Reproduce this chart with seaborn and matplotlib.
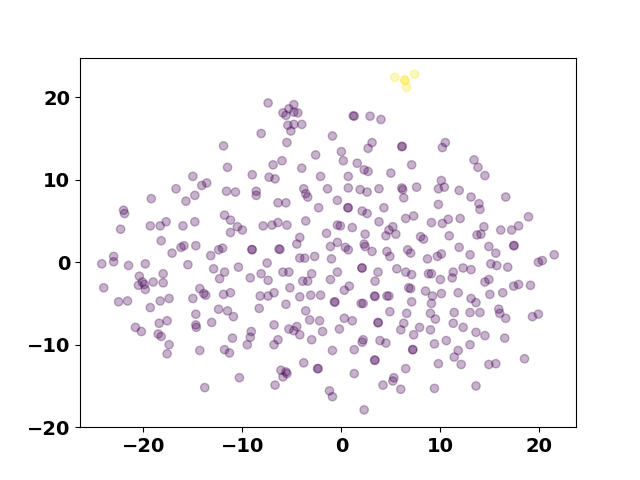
import seaborn as sns
import pandas as pd
import matplotlib
matplotlib.use("Agg")
import matplotlib.pyplot as plt

plt.rcParams['font.family'] = ['DejaVu Sans']
plt.rcParams['font.weight'] = 'bold'

# embedding coordinates, main group (label 0)
purple_x = [-15.0, -13.6, -14.1,
            -7.4, -4.8, -5.3, -5.9, -5.6, -4.8, -4.4, -5.4, -4.8, -4.0, -5.1, -8.1, -5.5, -0.9, -11.9, -2.6, -6.0, -6.9, -11.5, -4.0, -9.0, -7.3, -6.7, -2.1,
            1.2, 1.3, 2.9, 4.0, 3.1, 2.7, 6.1, 6.15, 10.5, 10.2, 0.0, 0.2, 1.6, 2.3, 2.7, 7.1, 5.0, 0.7, 10.1,
            13.4, 13.8, 14.5,
            -16.7, -19.2, -14.8, -15.7, -22.0, -21.9, -22.3, -19.3, -18.3, -17.7, -16.0, -14.8, -18.2, -16.2, -15.9, -14.7, -17.1, -13.2, -24.2, -23.0, -23.0, -21.5, -19.8, -15.5, -12.9, -18.0, -20.4, -20.5, -20.1, -19.9, -19.8, -19.0, -18.0, -24.0, -22.5, -21.6, -18.3, -17.4, -19.3, -15.0, -14.3, -13.9, -13.7,
            -11.6, -10.7, -8.6, -8.6, -3.8, -3.6, -3.4, -1.4, -6.4, -5.6, -2.3, -11.8, -11.2, -10.5, -10.0, -11.2, -7.9, -7.0, -6.4, -5.5, -3.6, -1.5, -4.2, -4.5, -1.1, -12.4, -12.0, -9.0, -9.05, -6.3, -6.2, -4.2, -3.7, -2.7, -1.0, -7.5, -10.4, -11.8, -12.3, -9.2, -8.1, -7.4, -5.9, -5.3, -3.0, -3.9, -3.4, -1.1, -5.2, -11.9, -11.2, -8.2, -7.4, -6.8, -4.2, -3.1, -2.1, -5.6, -0.7, -0.65,
            0.7, 1.9, 2.6, 3.8, 6.1, 6.2, 6.3, 7.6, 9.8, 10.4, -0.4, 0.65, 0.7, 2.1, 2.6, 4.3, 6.5, 7.3, 9.8, 9.1, 10.2, 10.8, -0.4, -0.1, 1.1, 3.8, 5.2, 4.8, 4.5, 5.5, 2.4, 8.0, 8.3, 10.9, -0.4, 0.4, 0.7, 2.3, 2.4, 3.1, 4.6, 4.9, 6.7, 7.0, 8.7, 9.7, 10.1, 2.07, 2.1, -0.4, 3.7, 3.4, 5.6, 6.5, 7.1, 8.8, 9.1, 10.0, 0.8, 0.3, 3.35, 3.4, 4.6, 4.8, 6.8, 7.0, 8.5, 9.2, 10.1, 7.1, 2.0, 2.2, 9.1,
            11.9, 13.1, 16.6, 13.9, 14.0, 12.0, 18.9, 14.4, 13.7, 14.1, 16.1, 17.2, 17.9, 17.4, 17.45, 11.9, 14.9, 15.6, 13.0, 21.5, 19.9, 20.3, 15.1, 15.7, 16.8, 12.3, 13.1, 11.3, 11.2, 14.5, 14.9, 17.4, 17.9, 19.1, 11.8, 15.0, 16.3, 13.1, 13.6,
            -14.7, -13.1, -17.6, -18.4, -20.8, -20.2, -14.7, -14.65, -18.5, -18.2, -17.4, -17.6, -14.3, -13.8,
            -12.4, -11.5, -10.9, -8.3, -3.6, -3.2, -2.2, -6.8, -5.3, -4.8, -4.5, -4.2, -1.9, -3.0, -9.1, -9.2, -9.5, -11.0, -6.4, -6.8, -11.8, -11.3, -0.9, -3.8, -2.4, -2.35, -6.1, -5.6, -5.5, -5.9, -6.7, -10.3, -1.2, -0.9,
            4.9, 6.6, 9.0, 9.5, 11.4, 11.3, 0.3, 1.1, -0.2, 3.7, 3.72, 6.3, 6.0, 7.9, 7.3, 9.0, 2.2, 2.1, 3.9, 4.5, 1.3, 7.2, 7.22, 9.4, 10.6, 3.35, 3.4, 6.5, 9.8, 1.3, 5.3, 5.2, 4.2, 6.0, 9.4, 2.3,
            13.0, 14.0, 15.9, 16.0, 16.6, 19.3, 19.9, 12.3, 13.6, 14.5, 16.5, 13.0, 11.8, 11.4, 12.1, 14.9, 15.6, 18.5, 13.6]
purple_y = [10.4, 9.6, 9.3,
            19.3, 19.1, 18.6, 18.1, 17.8, 18.2, 18.1, 16.6, 16.7, 16.7, 15.9, 15.6, 14.5, 15.3, 14.1, 13.0, 12.3, 11.8, 11.5, 11.4, 10.6, 10.3, 10.1, 10.4,
            17.75, 17.7, 17.7, 17.3, 14.5, 13.8, 14.0, 14.05, 14.5, 13.9, 13.4, 12.3, 12.0, 11.2, 11.0, 11.8, 10.8, 10.4, 9.9,
            12.4, 11.5, 10.5,
            8.9, 7.7, 8.1, 7.4, 6.3, 5.9, 4.0, 4.4, 4.4, 4.9, 4.4, 4.9, 2.6, 1.8, 2.0, 2.0, 1.1, 0.8, -0.2, 0.7, 0.05, -0.4, -0.2, -0.3, -0.8, -1.4, -1.7, -2.8, -2.4, -2.7, -3.3, -2.4, -2.5, -3.1, -4.8, -4.7, -4.7, -4.4, -5.5, -4.4, -3.2, -3.8, -4.0,
            8.6, 8.5, 8.6, 8.1, 8.9, 8.3, 7.9, 8.9, 7.2, 7.2, 6.6, 5.7, 5.1, 4.3, 3.9, 3.6, 4.4, 4.5, 4.8, 4.5, 5.0, 3.5, 3.0, 2.2, 1.9, 1.5, 1.7, 1.5, 1.55, 1.6, 1.55, 0.5, 0.5, 0.7, 0.4, -0.1, -0.6, -1.2, -2.0, -1.9, -1.4, -2.2, -1.2, -1.2, -1.4, -2.3, -2.3, -2.1, -3.1, -3.9, -3.7, -4.1, -4.1, -3.7, -4.2, -4.0, -4.0, -5.1, -4.8, -4.85,
            9.0, 8.8, 8.5, 8.9, 9.0, 8.8, 7.8, 9.1, 8.9, 9.1, 7.5, 6.6, 6.6, 6.2, 5.9, 6.6, 5.3, 5.6, 7.0, 4.8, 4.7, 5.2, 4.5, 4.4, 4.2, 4.9, 4.3, 3.9, 3.2, 3.4, 3.4, 3.1, 2.8, 3.2, 2.4, 1.8, 1.5, 2.2, 1.9, 1.3, 1.3, 0.7, 1.5, 1.1, 0.4, 0.7, 1.0, -0.7, -0.7, -1.2, -1.2, -2.3, -0.8, -1.2, -1.5, -1.4, -1.4, -2.1, -2.9, -3.4, -4.1, -4.15, -4.1, -4.1, -3.1, -3.2, -3.5, -4.1, -3.8, -4.8, -5.0, -5.0, -5.0,
            8.7, 7.9, 7.9, 7.1, 6.4, 5.3, 5.5, 4.3, 3.3, 3.4, 3.9, 3.9, 4.4, 2.0, 2.02, 1.8, 1.9, 1.1, 0.9, 0.9, 0.0, 0.2, -0.2, -0.4, -0.6, -0.7, -0.9, -1.2, -1.9, -2.4, -2.1, -2.9, -2.7, -2.8, -3.7, -3.9, -3.7, -4.4, -4.9,
            -6.3, -7.3, -7.1, -7.4, -7.9, -8.4, -7.6, -7.9, -8.7, -9.0, -10.0, -11.1, -10.7, -15.2,
            -5.7, -5.9, -6.6, -5.6, -5.9, -7.0, -7.1, -7.6, -8.1, -8.3, -7.8, -8.8, -8.4, -9.4, -8.4, -9.1, -10.0, -9.2, -9.4, -10.0, -10.6, -11.0, -10.7, -12.2, -12.9, -12.9, -13.1, -13.3, -13.5, -13.9, -14.9, -14.0, -15.6, -16.3,
            -6.0, -6.2, -6.2, -6.9, -6.1, -7.4, -6.8, -7.1, -8.1, -7.3, -7.35, -7.4, -8.2, -7.9, -8.8, -8.2, -9.4, -9.7, -9.5, -9.8, -10.6, -10.6, -10.6, -9.9, -9.5, -11.85, -11.9, -12.9, -12.3, -13.5, -14.0, -14.4, -14.9, -15.4, -15.3, -17.9,
            -6.1, -6.1, -5.7, -6.2, -6.8, -6.6, -6.3, -7.9, -8.5, -8.9, -9.2, -10.0, -10.7, -11.5, -12.4, -12.4, -12.3, -11.7, -15.0]

# small separate group (label 1)
yellow_x = [5.4, 6.4, 6.45, 7.4, 6.6]
yellow_y = [22.4, 22.1, 22.0, 22.8, 21.2]

df = pd.DataFrame({
    "x": purple_x + yellow_x,
    "y": purple_y + yellow_y,
    "label": [0] * len(purple_x) + [1] * len(yellow_x),
})

fig, ax = plt.subplots(figsize=(6.4, 4.8), dpi=100)
sns.scatterplot(data=df, x="x", y="y", hue="label",
                palette={0: "#440154", 1: "#fde725"},
                alpha=0.3, s=36, edgecolor="face", linewidth=1.0,
                legend=False, ax=ax)
ax.set_xlim(-26.4, 23.7)
ax.set_ylim(-20, 24.8)
ax.set_xticks([-20, -10, 0, 10, 20])
ax.set_yticks([-20, -10, 0, 10, 20])
ax.set_xlabel("")
ax.set_ylabel("")
ax.tick_params(labelsize=14)
for lab in ax.get_xticklabels() + ax.get_yticklabels():
    lab.set_fontweight("bold")

fig.savefig("out.png")
